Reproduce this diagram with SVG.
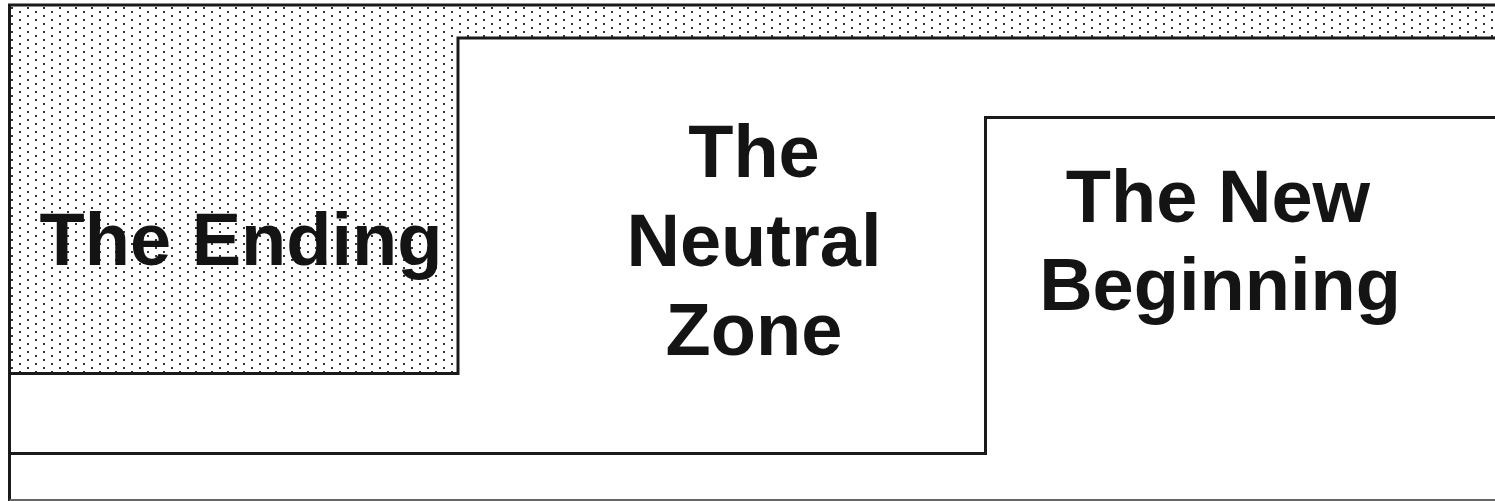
<svg xmlns="http://www.w3.org/2000/svg" width="1495" height="501" viewBox="0 0 1495 501">
<defs>
<pattern id="dots" patternUnits="userSpaceOnUse" x="3" y="3" width="16" height="8">
<rect x="0" y="0" width="2" height="2" fill="#333"/>
<rect x="8" y="4" width="2" height="2" fill="#333"/>
</pattern>
</defs>
<style>
.ln{fill:none;stroke:#1a1a1a;stroke-width:3;stroke-linecap:square}
.lbl{font-family:"Liberation Sans",Arial,sans-serif;font-weight:bold;font-size:74px;fill:#141414;text-anchor:middle}
</style>
<rect width="1495" height="501" fill="#fff"/>
<g id="ending">
<path d="M9.5,5 H1495 V38 H458 V373.5 H9.5 Z" fill="url(#dots)"/>
<text class="lbl" x="241" y="265">The Ending</text>
</g>
<g id="neutral">
<text class="lbl" x="754" y="177">The</text>
<text class="lbl" x="754" y="266">Neutral</text>
<text class="lbl" x="754" y="355">Zone</text>
</g>
<g id="newbeginning">
<text class="lbl" x="1218" y="222">The New</text>
<text class="lbl" x="1220" y="310">Beginning</text>
</g>
<g id="connectors">
<path class="ln" d="M1496,5 H9.5 V501"/>
<path class="ln" d="M9.5,373.5 H458 V38 H1496"/>
<path class="ln" d="M9.5,453.5 H985.5 V117.5 H1496"/>
<line x1="9.5" y1="500" x2="1495" y2="500" stroke="#666" stroke-width="2"/>
</g>
</svg>
